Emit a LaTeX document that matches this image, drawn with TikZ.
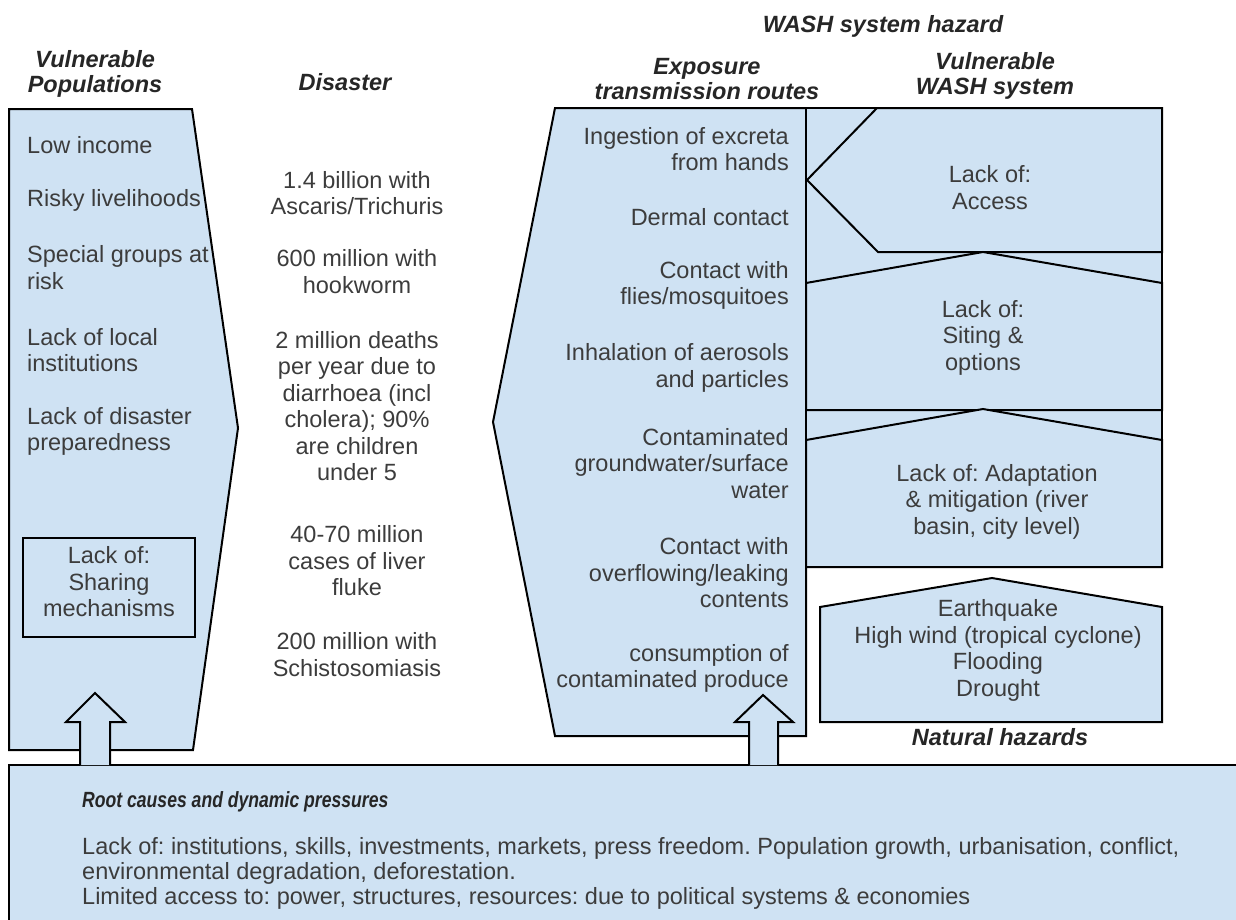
\documentclass[tikz,border=0pt]{standalone}
\usepackage{fontspec}
\setmainfont{Liberation Sans}
\newfontfamily\narrowsf[FakeStretch=0.8]{Liberation Sans}
\definecolor{washblue}{HTML}{CFE2F3}
\definecolor{textgray}{HTML}{3C3C3C}
\newcommand{\itemfont}{\fontsize{23.5}{26.5}\selectfont}
\newcommand{\headfont}{\fontsize{23.5}{25}\selectfont\bfseries\itshape}
\frenchspacing

\begin{document}
\begin{tikzpicture}[x=1pt, y=-1pt,
    panel/.style ={draw, line width=2pt, fill=washblue, line join=miter},
    item/.style ={text=textgray, font=\itemfont, inner sep=0pt},
    heading/.style ={text=black!85, font=\headfont, inner sep=0pt, align=center}]
   \clip (0,0) rectangle (1236,919);

   % root causes box
   \draw[panel] (9,765) rectangle (1242,925);

   % vulnerable populations
   \draw[panel] (9,109) -- (192,109) -- (238,428) -- (193,750) -- (9,750) -- cycle;
   \draw[panel] (23,538) rectangle (195,637);

   % exposure routes
   \draw[panel] (555,108) -- (806,108) -- (806,736) -- (555,736) -- (493,422) -- cycle;

   % vulnerable WASH system
   \draw[panel] (806,108) rectangle (1162,567);
   \draw[panel] (877,108) -- (1162,108) -- (1162,252) -- (878,252) -- (807,180) -- cycle;
   \draw[panel] (806,410) -- (806,283) -- (983,252) -- (1162,283) -- (1162,410) -- cycle;
   \draw[panel] (806,567) -- (806,440) -- (983,409) -- (1162,440) -- (1162,567) -- cycle;

   % natural hazards
   \draw[panel] (820,722) -- (820,607) -- (992,578) -- (1162,607) -- (1162,722) -- cycle;

   % arrows
   \draw[panel] (80,765) -- (80,722) -- (66,722) -- (95,693) -- (125,722) -- (110,722) -- (110,765);
   \draw[panel] (749,765) -- (749,722) -- (735,722) -- (763,695) -- (793,722) -- (778,722) -- (778,765);

   % headings
   \node[heading] (vulnpop) at (95,73.5) {Vulnerable\\Populations};
   \node[heading] (disaster) at (345,82) {Disaster};
   \node[heading] (exposure) at (707,79.5) {Exposure\\transmission routes};
   \node[heading] (washhaz) at (883,26) {WASH system hazard};
   \node[heading] (vulnwash) at (995,75.5) {Vulnerable\\WASH system};
   \node[heading] (nathaz) at (1000,737) {Natural hazards};

   \node[item, anchor=west] (lowinc) at (27,145) {Low income};
   \node[item, anchor=west] (risky) at (27,200) {Risky livelihoods};
   \node[item, anchor=west, align=left] (special) at (27,267.5) {Special groups at\\risk};
   \node[item, anchor=west, align=left] (localinst) at (27,350) {Lack of local\\institutions};
   \node[item, anchor=west, align=left] (prepared) at (27,431.5) {Lack of disaster\\preparedness};
   \node[item, align=center] (sharing) at (109,582) {Lack of:\\Sharing\\mechanisms};

   \node[item, align=center] (ascaris) at (357,193) {1.4 billion with\\Ascaris/Trichuris};
   \node[item, align=center] (hookworm) at (357,271.5) {600 million with\\hookworm};
   \node[item, align=center] (diarrhoea) at (357,406) {2 million deaths\\per year due to\\diarrhoea (incl\\cholera); 90\%\\are children\\under 5};
   \node[item, align=center] (fluke) at (357,561) {40-70 million\\cases of liver\\fluke};
   \node[item, align=center] (schisto) at (357,654.5) {200 million with\\Schistosomiasis};

   \node[item, anchor=east, align=right] (ingest) at (789,149) {Ingestion of excreta\\from hands};
   \node[item, anchor=east, align=right] (dermal) at (789,217) {Dermal contact};
   \node[item, anchor=east, align=right] (flies) at (789,285.5) {Contact with\\flies/mosquitoes};
   \node[item, anchor=east, align=right] (aerosol) at (789,368) {Inhalation of aerosols\\and particles};
   \node[item, anchor=east, align=right] (water) at (789,463.5) {Contaminated\\groundwater/surface\\water};
   \node[item, anchor=east, align=right] (overflow) at (789,573) {Contact with\\overflowing/leaking\\contents};
   \node[item, anchor=east, align=right] (produce) at (789,668.5) {consumption of\\contaminated produce};

   \node[item, align=center] (access) at (990,187.5) {Lack of:\\Access};
   \node[item, align=center] (siting) at (983,337.5) {Lack of:\\Siting \&\\options};
   \node[item, align=center] (adapt) at (997,501.5) {Lack of: Adaptation\\\& mitigation (river\\basin, city level)};
   \node[item, align=center] (natural) at (998,650.5) {Earthquake\\High wind (tropical cyclone)\\Flooding\\Drought};

   \node[item, anchor=west, text=black!85, font={\fontsize{22}{24}\selectfont\narrowsf\bfseries\itshape}] (roothead) at (82,802) {Root causes and dynamic pressures};
   \node[item, anchor=west, align=left, font={\fontsize{23.5}{25}\selectfont}] (rootbody) at (82,873) {Lack of: institutions, skills, investments, markets, press freedom. Population growth, urbanisation, conflict,\\environmental degradation, deforestation.\\Limited access to: power, structures, resources: due to political systems \& economies};
 \end{tikzpicture}
\end{document}
